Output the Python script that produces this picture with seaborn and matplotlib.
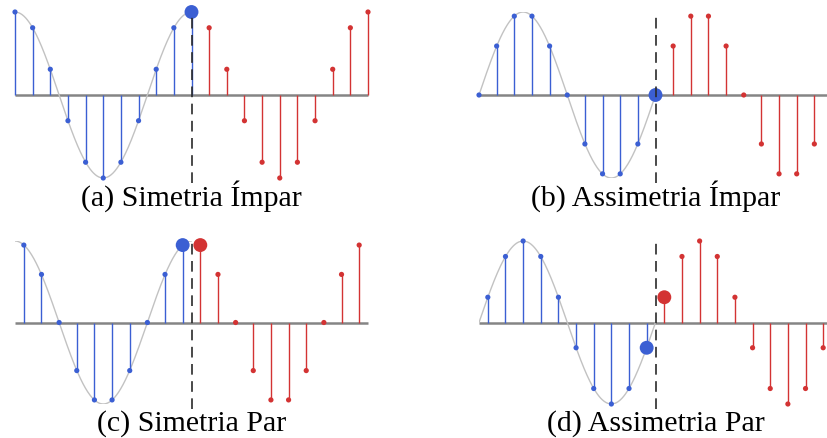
import numpy as np
import matplotlib
matplotlib.use("Agg")
import matplotlib.pyplot as plt
import seaborn as sns

sns.set_theme(style="white")
plt.rcParams["font.family"] = ["Liberation Serif", "DejaVu Serif"]

# Sample values of each extension (blue: original block, red: extension)
a_blue_x = [0, 1, 2, 3, 4, 5, 6, 7, 8, 9, 10]
a_blue_y = [1.0, 0.81, 0.31, -0.31, -0.81, -1.0, -0.81, -0.31, 0.31, 0.81, 1.0]
a_red_x = [11, 12, 13, 14, 15, 16, 17, 18, 19, 20]
a_red_y = [0.81, 0.31, -0.31, -0.81, -1.0, -0.81, -0.31, 0.31, 0.81, 1.0]

b_blue_x = [0, 1, 2, 3, 4, 5, 6, 7, 8, 9, 10]
b_blue_y = [0.0, 0.59, 0.95, 0.95, 0.59, 0.0, -0.59, -0.95, -0.95, -0.59, 0.0]
b_red_x = [11, 12, 13, 14, 15, 16, 17, 18, 19]
b_red_y = [0.59, 0.95, 0.95, 0.59, 0.0, -0.59, -0.95, -0.95, -0.59]

c_blue_x = [0.5, 1.5, 2.5, 3.5, 4.5, 5.5, 6.5, 7.5, 8.5, 9.5]
c_blue_y = [0.95, 0.59, 0.0, -0.59, -0.95, -0.95, -0.59, 0.0, 0.59, 0.95]
c_red_x = [10.5, 11.5, 12.5, 13.5, 14.5, 15.5, 16.5, 17.5, 18.5, 19.5]
c_red_y = [0.95, 0.59, 0.0, -0.59, -0.95, -0.95, -0.59, 0.0, 0.59, 0.95]

d_blue_x = [0.5, 1.5, 2.5, 3.5, 4.5, 5.5, 6.5, 7.5, 8.5, 9.5]
d_blue_y = [0.31, 0.81, 1.0, 0.81, 0.31, -0.31, -0.81, -1.0, -0.81, -0.31]
d_red_x = [10.5, 11.5, 12.5, 13.5, 14.5, 15.5, 16.5, 17.5, 18.5, 19.5]
d_red_y = [0.31, 0.81, 1.0, 0.81, 0.31, -0.31, -0.81, -1.0, -0.81, -0.31]

titles = ["(a) Simetria Ímpar", "(b) Assimetria Ímpar",
          "(c) Simetria Par", "(d) Assimetria Par"]

# Underlying continuous signal of the original block
period = 10.0
block_len = 10.0
boundary = 10.0

BLUE = "#3b5fd3"
RED = "#d33333"
GREY_AXIS = "#858585"
GREY_CURVE = "#c2c2c2"

panels = [
    dict(bx=a_blue_x, by=a_blue_y, rx=a_red_x, ry=a_red_y, wave="cos",
         big_blue=True, big_red=False),
    dict(bx=b_blue_x, by=b_blue_y, rx=b_red_x, ry=b_red_y, wave="sin",
         big_blue=True, big_red=False),
    dict(bx=c_blue_x, by=c_blue_y, rx=c_red_x, ry=c_red_y, wave="cos",
         big_blue=True, big_red=True),
    dict(bx=d_blue_x, by=d_blue_y, rx=d_red_x, ry=d_red_y, wave="sin",
         big_blue=True, big_red=True),
]

W, H = 828, 438
fig = plt.figure(figsize=(W / 100, H / 100), dpi=100)

# axes boxes in pixels: (left, top of +1, bottom of -1)
boxes = [(15, 12, 178), (479, 12, 178), (15, 241, 404), (479, 241, 404)]
span_px = 353

for i, (p, (lx, ty, by_)) in enumerate(zip(panels, boxes)):
    ax = fig.add_axes([lx / W, (H - by_) / H, span_px / W, (by_ - ty) / H])
    ax.set_xlim(0, 20)
    ax.set_ylim(-1, 1)
    ax.set_axis_off()

    # zero line
    ax.plot([0, 20], [0, 0], color=GREY_AXIS, lw=1.8, zorder=1,
            solid_capstyle="butt", clip_on=False)

    # continuous signal
    t = np.linspace(0, block_len, 300)
    s = np.cos(2 * np.pi * t / period) if p["wave"] == "cos" else np.sin(2 * np.pi * t / period)
    sns.lineplot(x=t, y=s, ax=ax, color=GREY_CURVE, lw=1.0, zorder=2,
                 estimator=None, sort=False)

    # stems
    ax.vlines(p["bx"], 0, p["by"], color=BLUE, lw=1.0, zorder=3, clip_on=False)
    ax.vlines(p["rx"], 0, p["ry"], color=RED, lw=1.0, zorder=3, clip_on=False)

    # sample markers
    sizes_b = [100 if (p["big_blue"] and k == len(p["bx"]) - 1) else 14
               for k in range(len(p["bx"]))]
    sizes_r = [100 if (p["big_red"] and k == 0) else 14
               for k in range(len(p["rx"]))]
    ax.scatter(p["bx"], p["by"], s=sizes_b, color=BLUE, linewidths=0,
               zorder=4, clip_on=False)
    ax.scatter(p["rx"], p["ry"], s=sizes_r, color=RED, linewidths=0,
               zorder=4, clip_on=False)

    # symmetry boundary
    ax.vlines(boundary, -1.06, 1.0, color="#2a2a2a", lw=1.2,
              linestyles=[(0, (6.4, 3.9))], zorder=5, clip_on=False)

    # caption
    cx = (lx + span_px * boundary / 20) / W
    cy = (H - (206 if i < 2 else 431)) / H
    fig.text(cx, cy, titles[i], ha="center", va="baseline", fontsize=21.5,
             color="black")

fig.savefig("out.png", dpi=100)
